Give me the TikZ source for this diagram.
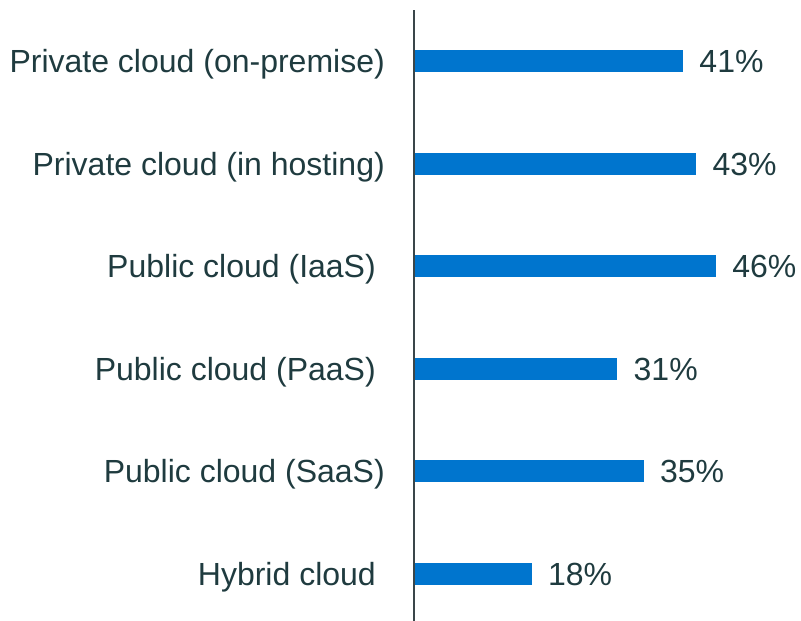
\documentclass[tikz,border=0pt]{standalone}
\usepackage{fontspec}
\setmainfont{Liberation Sans}
\definecolor{barc}{RGB}{0,117,206}
\definecolor{inkdark}{RGB}{31,59,63}
\definecolor{axisc}{RGB}{58,70,74}

\begin{document}
\begin{tikzpicture}[x=1pt,y=-1pt,
  lab/.style={font=\fontsize{32}{38}\selectfont,text=inkdark,inner sep=0pt},
  bar/.style={fill=barc}]
\useasboundingbox (0,0) rectangle (801,621);
\foreach \i/\p/\e/\t in {0/41/385/Private cloud (on-premise),
                         1/43/385/Private cloud (in hosting),
                         2/46/376/Public cloud (IaaS),
                         3/31/376/Public cloud (PaaS),
                         4/35/385/Public cloud (SaaS),
                         5/18/376/Hybrid cloud} {
  \fill[bar] (413.5,61+\i*102.5-11) rectangle ++(\p*6.58,22)
    coordinate (end\i);
  \node[lab,anchor=base west] (val\i) at ([xshift=16pt,yshift=-0.5pt]end\i) {\p\%};
  \node[lab,anchor=base east] (lab\i) at (\e,61+\i*102.5+11.5) {\t};
}
\coordinate (axtop) at (413.5,10);
\coordinate (axbot) at (413.5,621);
\draw[axisc,line width=2pt] (axtop) -- (axbot);
\end{tikzpicture}
\end{document}
